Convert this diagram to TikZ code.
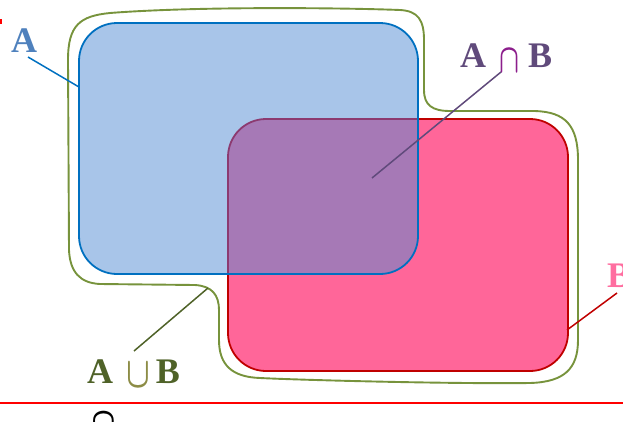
\documentclass[tikz,border=0pt]{standalone}
\usepackage{fontspec}
\setmainfont{Liberation Serif}
\usepackage{graphicx}
\usepackage{bm}
\definecolor{bluefill}{RGB}{168,197,233}
\definecolor{blueline}{RGB}{0,112,192}
\definecolor{pinkfill}{RGB}{255,102,153}
\definecolor{redline}{RGB}{192,0,0}
\definecolor{purplefill}{RGB}{166,121,182}
\definecolor{purpleline}{RGB}{140,58,112}
\definecolor{greenline}{RGB}{119,147,60}
\definecolor{alab}{RGB}{79,129,189}
\definecolor{ablab}{RGB}{96,74,123}
\definecolor{capc}{RGB}{140,30,140}
\definecolor{blab}{RGB}{255,110,160}
\definecolor{ulab}{RGB}{79,98,40}
\definecolor{cupc}{RGB}{140,140,70}
\definecolor{topred}{RGB}{255,0,0}
\begin{document}
\begin{tikzpicture}[x=1pt,y=-1pt,
  lbl/.style={font=\fontsize{36}{36}\selectfont\bfseries, inner sep=0pt, anchor=base},
  sym/.style={font=\fontsize{30}{30}\selectfont, inner sep=0pt, anchor=base},
  leader/.style={line width=1.5pt}]
\useasboundingbox (0,0) rectangle (623,421);
% sets
\fill[pinkfill, rounded corners=38pt] (228,119) rectangle (568,371);
\draw[redline, line width=1.8pt, rounded corners=38pt] (228,119) rectangle (568,371);
\fill[bluefill, rounded corners=38pt] (79,23) rectangle (418,274);
\begin{scope}
  \clip[rounded corners=38pt] (79,23) rectangle (418,274);
  \fill[purplefill, rounded corners=38pt] (228,119) rectangle (568,371);
  \draw[purpleline, line width=1.8pt, rounded corners=38pt] (228,119) rectangle (568,371);
\end{scope}
\draw[blueline, line width=1.8pt, rounded corners=38pt] (79,23) rectangle (418,274);
% union outline
\draw[greenline, line width=1.9pt]
  (68,60) .. controls (68,25) and (80,16) .. (110,13)
  .. controls (200,6) and (350,8) .. (400,10)
  .. controls (418,11) and (424,20) .. (424,40)
  -- (424,90) .. controls (424,105) and (432,111) .. (450,111)
  -- (535,111) .. controls (565,112) and (578,125) .. (578,160)
  -- (578,340) .. controls (578,368) and (565,382) .. (530,383)
  .. controls (450,384) and (300,380) .. (260,378)
  .. controls (232,377) and (219,365) .. (219,340)
  -- (219,310) .. controls (219,295) and (212,286) .. (195,285)
  -- (100,284) .. controls (80,283) and (70,272) .. (69,250)
  -- cycle;
% labels
\node[lbl, text=alab] (la) at (24,52) {A};
\node[lbl, text=ablab] (lia) at (473,67) {A};
\node[sym, text=capc] (lic) at (510,72) {\scalebox{1.05}[1.65]{$\bm{\cap}$}};
\node[lbl, text=ablab] (lib) at (540,67) {B};
\node[lbl, text=blab, anchor=base west] (lb) at (607,287) {B};
\node[lbl, text=ulab] (lua) at (100,383) {A};
\node[sym, text=cupc] (luc) at (138.5,387) {\scalebox{1.25}[1.75]{$\bm{\cup}$}};
\node[lbl, text=ulab] (lub) at (168,383) {B};
\node[sym, text=black] (lbc) at (104,437) {\scalebox{1.3}[1.75]{$\bm{\cap}$}};
% leader lines
\coordinate (a1) at (28,57);  \coordinate (a2) at (79,87);
\coordinate (i1) at (501,72); \coordinate (i2) at (372,178);
\coordinate (b1) at (617,293); \coordinate (b2) at (567,330);
\coordinate (u1) at (134,351); \coordinate (u2) at (208,288);
\draw[leader, blueline] (a1) -- (a2);
\draw[leader, ablab] (i1) -- (i2);
\draw[leader, redline] (b1) -- (b2);
\draw[leader, ulab] (u1) -- (u2);
% bottom rule and corner mark
\coordinate (r1) at (0,402.5); \coordinate (r2) at (623,402.5);
\draw[topred, line width=2pt] (r1) -- (r2);
\fill[topred] (0,19) rectangle (1.5,24);
\end{tikzpicture}
\end{document}
